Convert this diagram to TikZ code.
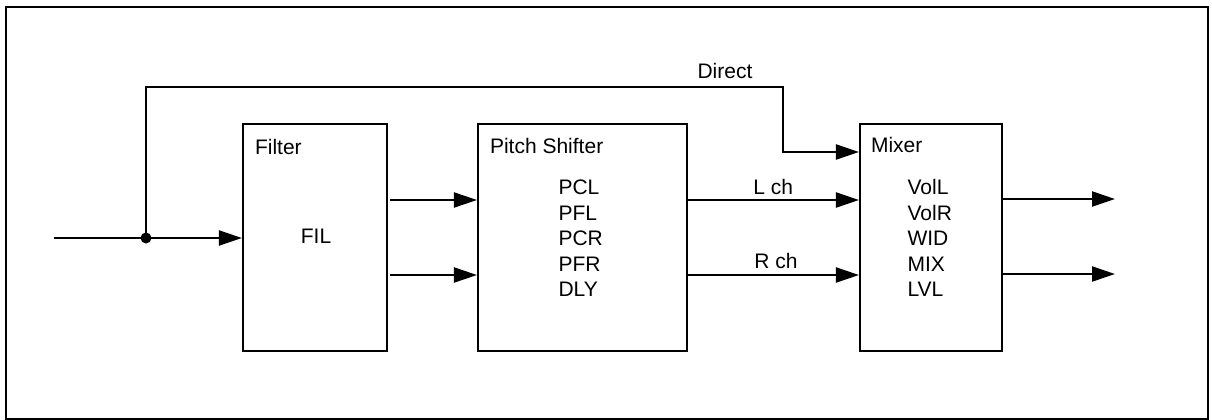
\documentclass[tikz,border=0pt]{standalone}
\usepackage{fontspec}
\setmainfont{Liberation Sans}
\usetikzlibrary{arrows.meta}
\begin{document}
\begin{tikzpicture}[x=1pt,y=-1pt,line width=2.1pt,
  blk/.style={draw,line width=2.1pt,inner sep=0pt},
  lbl/.style={font=\fontsize{21}{25}\selectfont,inner sep=0pt},
  arr/.style={-{Triangle[length=23pt,width=15pt]}}]
\useasboundingbox (0,0) rectangle (1212,420);
\draw[line width=1.6pt] (6,7) rectangle (1208,419);
% blocks
\node[blk,minimum width=144pt,minimum height=227pt] (fil) at (315,237.75) {};
\node[blk,minimum width=209pt,minimum height=227pt] (ps) at (582.5,237.75) {};
\node[blk,minimum width=142pt,minimum height=227pt] (mix) at (931,237.25) {};
% block texts
\node[lbl,anchor=base west] (filT) at (254,154) {Filter};
\node[lbl,anchor=base] (filP) at (316,243) {FIL};
\node[lbl,anchor=base west] (psT) at (489,153) {Pitch Shifter};
\node[lbl,anchor=base west] (ps1) at (557.5,194.3) {PCL};
\node[lbl,anchor=base west] (ps2) at (557.5,220) {PFL};
\node[lbl,anchor=base west] (ps3) at (557.5,245.7) {PCR};
\node[lbl,anchor=base west] (ps4) at (557.5,271) {PFR};
\node[lbl,anchor=base west] (ps5) at (557.5,296.3) {DLY};
\node[lbl,anchor=base west] (mixT) at (870,152) {Mixer};
\node[lbl,anchor=base west] (mx1) at (906.5,194.3) {VolL};
\node[lbl,anchor=base west] (mx2) at (906.5,220) {VolR};
\node[lbl,anchor=base west] (mx3) at (906.5,245.7) {WID};
\node[lbl,anchor=base west] (mx4) at (906.5,271) {MIX};
\node[lbl,anchor=base west] (mx5) at (906.5,296.3) {LVL};
% connector labels
\node[lbl,anchor=base west] (dirL) at (696.5,78) {Direct};
\node[lbl,anchor=base west] (lchL) at (752.3,194) {L ch};
\node[lbl,anchor=base west] (rchL) at (753.3,268.5) {R ch};
% coordinates
\coordinate (in) at (54,238);
\coordinate (j) at (146,238);
\coordinate (d2) at (783,87);
\coordinate (d3) at (783,152);
\coordinate (f1) at (390,200);
\coordinate (f2) at (390,275);
\coordinate (o1) at (1115,199);
\coordinate (o2) at (1115,274);
% connectors
\draw (in) -- (j);
\draw[arr] (j) -- (j -| fil.west);
\draw[arr] (j) |- (d2) -- (d3) -- (d3 -| mix.west);
\fill (j) circle (5.5pt);
\draw[arr] (f1) -- (f1 -| ps.west);
\draw[arr] (f2) -- (f2 -| ps.west);
\draw[arr] (ps.east |- f1) -- (mix.west |- f1);
\draw[arr] (ps.east |- f2) -- (mix.west |- f2);
\draw[arr] (mix.east |- o1) -- (o1);
\draw[arr] (mix.east |- o2) -- (o2);
\end{tikzpicture}
\end{document}
